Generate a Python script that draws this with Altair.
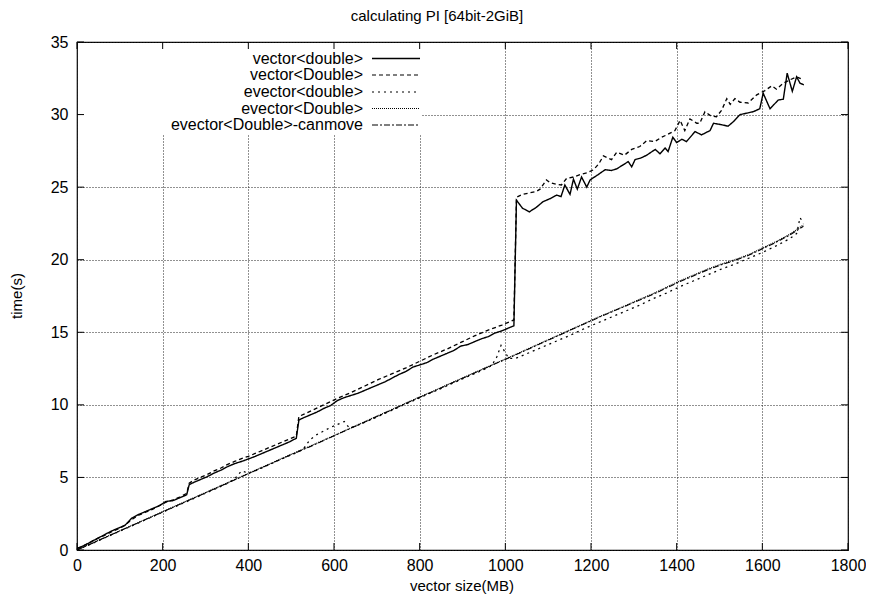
import altair as alt
import pandas as pd

SERIES = ["vector<double>", "vector<Double>", "evector<double>",
          "evector<Double>", "evector<Double>-canmove"]
DASHES = [[1, 0], [4, 3], [2, 4], [1, 1], [6, 2, 2, 2]]
WIDTHS = [1.4, 1.1, 1.1, 1.0, 1.1]
X_TICKS = [0, 200, 400, 600, 800, 1000, 1200, 1400, 1600, 1800]
Y_TICKS = [0, 5, 10, 15, 20, 25, 30, 35]

TITLE = "calculating PI [64bit-2GiB]"
X_TITLE = "vector size(MB)"
Y_TITLE = "time(s)"

# vector<double>
vd_x = [0, 16, 32, 48, 64, 80, 96, 112, 128, 144, 160, 176, 192, 208, 224, 240, 256,
        262, 272, 288, 304, 320, 336, 352, 368, 384, 400, 416, 432, 448, 464, 480, 496, 512,
        518, 528, 544, 560, 576, 592, 608, 624, 640, 656, 672, 688, 704, 720, 736, 752, 768,
        784, 800, 816, 832, 848, 864, 880, 896, 912, 928, 944, 960, 976, 992, 1008, 1020,
        1026, 1040, 1056, 1072, 1088, 1104, 1120, 1130, 1139, 1151, 1159, 1168, 1178, 1190,
        1198, 1216, 1233, 1248, 1260, 1273, 1287, 1295, 1303, 1316, 1330, 1350, 1361, 1373,
        1380, 1391, 1400, 1412, 1423, 1443, 1458, 1478, 1486, 1505, 1520, 1532, 1548, 1564,
        1579, 1594, 1602, 1618, 1637, 1649, 1658, 1670, 1680, 1688, 1697]
vd_y = [0.1, 0.3, 0.55, 0.8, 1.05, 1.3, 1.5, 1.7, 2.2, 2.45, 2.65, 2.85, 3.05, 3.35, 3.4, 3.6, 3.8,
        4.5, 4.65, 4.85, 5.05, 5.3, 5.5, 5.75, 5.95, 6.1, 6.27, 6.45, 6.65, 6.85, 7.05, 7.25, 7.45, 7.7,
        8.95, 9.1, 9.3, 9.5, 9.75, 9.95, 10.3, 10.5, 10.65, 10.8, 11.0, 11.2, 11.4, 11.6, 11.85, 12.1, 12.3,
        12.6, 12.75, 12.9, 13.15, 13.35, 13.55, 13.75, 14.05, 14.15, 14.35, 14.55, 14.7, 14.95, 15.1, 15.3, 15.45,
        24.1, 23.55, 23.3, 23.6, 24.0, 24.2, 24.45, 24.35, 25.15, 24.5, 25.55, 24.86, 25.7, 25.0,
        25.5, 25.85, 26.2, 26.15, 26.26, 26.5, 26.76, 26.4, 26.9, 27.0, 27.2, 27.6, 27.3, 27.7,
        27.45, 28.44, 28.07, 28.3, 28.14, 28.83, 28.6, 28.9, 29.4, 29.3, 29.2, 29.5, 30.0, 30.1,
        30.2, 30.4, 31.47, 30.4, 31.0, 31.06, 32.85, 31.6, 32.6, 32.16, 32.05]

# vector<Double>
vD_x = [0, 16, 32, 48, 64, 80, 96, 112, 128, 144, 160, 176, 192, 208, 224, 240, 256,
        262, 272, 288, 304, 320, 336, 352, 368, 384, 400, 416, 432, 448, 464, 480, 496, 512,
        518, 544, 576, 608, 640, 672, 704, 736, 768, 800, 832, 864, 896, 928, 960, 992, 1020,
        1026, 1040, 1056, 1072, 1081, 1096, 1105, 1118, 1131, 1143, 1159, 1178, 1192, 1206, 1218,
        1229, 1248, 1260, 1278, 1295, 1314, 1330, 1349, 1365, 1377, 1396, 1408, 1419, 1431, 1447,
        1454, 1466, 1480, 1493, 1505, 1517, 1525, 1536, 1548, 1567, 1587, 1606, 1622, 1633, 1649,
        1665, 1680, 1696]
vD_y = [0.1, 0.3, 0.55, 0.8, 1.0, 1.25, 1.45, 1.7, 2.1, 2.4, 2.6, 2.8, 3.05, 3.3, 3.45, 3.65, 3.9,
        4.6, 4.8, 5.0, 5.2, 5.45, 5.65, 5.9, 6.1, 6.3, 6.45, 6.65, 6.85, 7.05, 7.25, 7.45, 7.65, 7.85,
        9.2, 9.55, 10.0, 10.45, 10.85, 11.3, 11.75, 12.15, 12.55, 13.0, 13.45, 13.85, 14.3, 14.75, 15.15, 15.5, 15.85,
        24.3, 24.5, 24.6, 24.7, 24.86, 25.5, 25.3, 25.2, 25.15, 25.6, 25.7, 25.9, 26.0, 26.2, 26.6,
        27.15, 26.9, 27.4, 27.2, 27.6, 27.8, 28.2, 28.14, 28.44, 28.6, 28.9, 29.6, 28.9, 29.7, 29.4,
        29.4, 30.2, 29.9, 29.85, 30.3, 31.1, 30.7, 31.1, 30.85, 30.8, 31.36, 31.65, 31.98, 31.75, 32.16,
        32.4, 32.6, 32.4]

# evector<double>
ed_x = [0, 32, 64, 96, 128, 160, 192, 224, 256, 288, 320, 352, 368, 384, 400, 416, 448, 480, 512,
        528, 544, 560, 576, 592, 608, 624, 636, 656, 688, 720, 752, 784, 816, 848, 880, 912, 944,
        968, 980, 990, 1000, 1008, 1024, 1056, 1088, 1120, 1152, 1184, 1216, 1248, 1280, 1312, 1344,
        1376, 1408, 1440, 1472, 1504, 1536, 1568, 1600, 1632, 1664, 1680, 1688, 1696]
ed_y = [0.0, 0.4, 0.82, 1.25, 1.66, 2.08, 2.5, 2.92, 3.33, 3.75, 4.17, 4.6, 4.9, 5.45, 5.3, 5.45, 5.87, 6.3, 6.7,
        6.95, 7.6, 7.95, 8.2, 8.45, 8.65, 8.85, 8.4, 8.6, 9.0, 9.43, 9.85, 10.27, 10.7, 11.1, 11.53, 11.95, 12.35,
        12.7, 13.3, 14.1, 13.6, 13.2, 13.2, 13.6, 14.0, 14.4, 14.8, 15.25, 15.65, 16.05, 16.45, 16.85, 17.3,
        17.7, 18.15, 18.55, 18.95, 19.35, 19.7, 20.1, 20.5, 20.95, 21.45, 21.8, 22.9, 22.5]

# evector<Double>
eD_x = [0, 32, 64, 96, 128, 160, 192, 224, 256, 288, 320, 352, 384, 416, 448, 480, 512, 544, 576,
        608, 640, 672, 704, 736, 768, 800, 832, 864, 896, 928, 960, 992, 1024, 1056, 1088, 1120,
        1152, 1184, 1216, 1248, 1280, 1312, 1344, 1376, 1408, 1440, 1472, 1504, 1536, 1568, 1600,
        1632, 1664, 1696]
eD_y = [0.02, 0.43, 0.85, 1.27, 1.69, 2.11, 2.53, 2.96, 3.38, 3.8, 4.22, 4.64, 5.06, 5.49, 5.9, 6.33, 6.75, 7.15, 7.57,
        7.99, 8.42, 8.84, 9.27, 9.69, 10.12, 10.54, 10.95, 11.38, 11.8, 12.22, 12.64, 13.05, 13.47, 13.9, 14.33, 14.75,
        15.18, 15.6, 16.03, 16.43, 16.83, 17.25, 17.65, 18.1, 18.55, 18.95, 19.35, 19.7, 20.0, 20.35, 20.8,
        21.25, 21.75, 22.4]

# evector<Double>-canmove
ec_x = [0, 32, 64, 96, 128, 160, 192, 224, 256, 288, 320, 352, 384, 416, 448, 480, 512, 544, 576,
        608, 640, 672, 704, 736, 768, 800, 832, 864, 896, 928, 960, 992, 1024, 1056, 1088, 1120,
        1152, 1184, 1216, 1248, 1280, 1312, 1344, 1376, 1408, 1440, 1472, 1504, 1536, 1568, 1600,
        1632, 1664, 1696]
ec_y = [0.0, 0.42, 0.84, 1.26, 1.68, 2.1, 2.52, 2.94, 3.36, 3.78, 4.2, 4.62, 5.04, 5.47, 5.89, 6.31, 6.72, 7.12, 7.55,
        7.97, 8.4, 8.82, 9.25, 9.67, 10.1, 10.52, 10.93, 11.36, 11.78, 12.2, 12.62, 13.03, 13.45, 13.87, 14.3, 14.72,
        15.15, 15.57, 16.0, 16.4, 16.8, 17.2, 17.6, 18.05, 18.5, 18.9, 19.3, 19.65, 19.95, 20.3, 20.75,
        21.2, 21.7, 22.3]

rows = []
for name, xs, ys in zip(SERIES, [vd_x, vD_x, ed_x, eD_x, ec_x], [vd_y, vD_y, ed_y, eD_y, ec_y]):
    for xv, yv in zip(xs, ys):
        rows.append({"series": name, "size": xv, "time": yv})
df = pd.DataFrame(rows)

W, H = 771, 508
FONT = "Liberation Sans"
FS = 16
LEG_TEXT_X = 286
LEG_LINE_X1, LEG_LINE_X2 = 295, 343
LEG_Y = [16.5, 33, 50, 66.5, 83]

xscale = alt.Scale(domain=[0, 1800], nice=False, zero=False)
yscale = alt.Scale(domain=[0, 35], nice=False, zero=False)
xaxis = alt.Axis(values=X_TICKS, grid=True, ticks=False, domain=False, title=None,
                 labelPadding=7, labelFontSize=FS, labelFont=FONT, labelColor="black",
                 gridColor="#222", gridDash=[1, 2], gridWidth=1, labelFlush=False, format="d")
yaxis = alt.Axis(values=Y_TICKS, grid=True, ticks=False, domain=False, title=None,
                 labelPadding=9, labelFontSize=FS, labelFont=FONT, labelColor="black",
                 gridColor="#222", gridDash=[1, 2], gridWidth=1, labelFlush=False, format="d")


def xenc(field):
    return alt.X(f"{field}:Q", scale=xscale, axis=xaxis)


def yenc(field):
    return alt.Y(f"{field}:Q", scale=yscale, axis=yaxis)


one = pd.DataFrame({"k": [0]})

# opaque key box
keybox = alt.Chart(one).mark_rect(fill="white").encode(
    x=alt.value(1), x2=alt.value(345), y=alt.value(1), y2=alt.value(93))

lines = alt.Chart(df).mark_line(color="black").encode(
    x=xenc("size"), y=yenc("time"),
    strokeDash=alt.StrokeDash("series:N", scale=alt.Scale(domain=SERIES, range=DASHES), legend=None),
    strokeWidth=alt.StrokeWidth("series:N", scale=alt.Scale(domain=SERIES, range=WIDTHS), legend=None),
    detail="series:N",
)

xt = pd.DataFrame({"tick": X_TICKS})
yt = pd.DataFrame({"tick": Y_TICKS})
tick_b = alt.Chart(xt).mark_rule(color="black").encode(x=xenc("tick"), y=alt.value(H), y2=alt.value(H - 7))
tick_t = alt.Chart(xt).mark_rule(color="black").encode(x=xenc("tick"), y=alt.value(0), y2=alt.value(7))
tick_l = alt.Chart(yt).mark_rule(color="black").encode(y=yenc("tick"), x=alt.value(0), x2=alt.value(7))
tick_r = alt.Chart(yt).mark_rule(color="black").encode(y=yenc("tick"), x=alt.value(W), x2=alt.value(W - 7))

legend_layers = []
for i, name in enumerate(SERIES):
    d = pd.DataFrame({"name": [name]})
    legend_layers.append(
        alt.Chart(d).mark_text(align="right", baseline="middle", font=FONT, fontSize=FS, color="black").encode(
            x=alt.value(LEG_TEXT_X), y=alt.value(LEG_Y[i]), text="name:N"))
    legend_layers.append(
        alt.Chart(d).mark_rule(color="black", strokeDash=DASHES[i], strokeWidth=WIDTHS[i]).encode(
            x=alt.value(LEG_LINE_X1), x2=alt.value(LEG_LINE_X2), y=alt.value(LEG_Y[i])))

tdf = pd.DataFrame({"t": [TITLE], "xt": [X_TITLE], "yt": [Y_TITLE]})
title_t = alt.Chart(tdf).mark_text(font=FONT, fontSize=15, color="black", baseline="middle").encode(
    x=alt.value(360), y=alt.value(-26), text="t:N")
xtitle_t = alt.Chart(tdf).mark_text(font=FONT, fontSize=15, color="black", baseline="alphabetic").encode(
    x=alt.value(385), y=alt.value(549), text="xt:N")
ytitle_t = alt.Chart(tdf).mark_text(font=FONT, fontSize=15, color="black", baseline="middle", angle=270).encode(
    x=alt.value(-60), y=alt.value(254), text="yt:N")

chart = alt.layer(
    keybox, lines, tick_b, tick_t, tick_l, tick_r, *legend_layers, title_t, xtitle_t, ytitle_t
).properties(
    width=W, height=H,
    autosize=alt.AutoSizeParams(type="none"),
    padding={"left": 69, "top": 34, "right": 18, "bottom": 45},
    background="white",
).configure_view(stroke="black", strokeWidth=1.2)

chart.save("out.html", embed_options={"renderer": "svg", "actions": False})
